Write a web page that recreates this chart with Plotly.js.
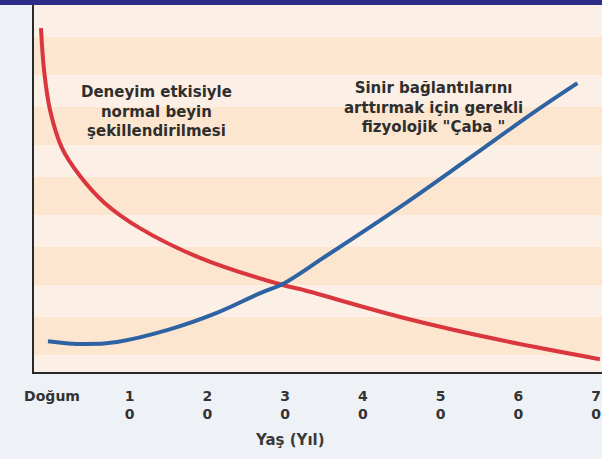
<!DOCTYPE html>
<html>
<head>
<meta charset="utf-8">
<script src="https://cdn.plot.ly/plotly-3.0.1.min.js"></script>
<style>html,body{margin:0;padding:0;background:#eef1f5;}#chart{width:602px;height:459px;}</style>
</head>
<body>
<div id="chart"></div>
<script>
// Data (age in years, relative level)
const redAge   = [-1.42, -1.03, -0.26, 1.29, 3.6, 6.8, 11.3, 19.04, 29.7, 31.9, 44.8, 57.7, 70.5];
const redLevel = [93.7, 82.3, 71.4, 61.0, 53.4, 46.0, 39.2, 31.1, 23.7, 22.6, 15.0, 8.7, 3.5];
const blueAge   = [-0.52, 3.99, 8.36, 14.8, 21.2, 26.8, 29.7, 34.9, 44.8, 53.4, 61.9, 67.6];
const blueLevel = [8.4, 7.6, 8.2, 11.4, 16.1, 21.5, 24.0, 31.1, 45.0, 57.8, 70.6, 78.7];
const tickVals = [0, 10, 20, 30, 40, 50, 60, 70];
const tickText = ["Doğum", "1<br>0", "2<br>0", "3<br>0", "4<br>0", "5<br>0", "6<br>0", "7<br>0"];
const leftLabel = "Deneyim etkisiyle<br>normal beyin<br>şekillendirilmesi";
const rightLabel = "Sinir bağlantılarını<br>arttırmak için gerekli<br>fizyolojik \"Çaba \"";
const axisTitle = "Yaş (Yıl)";

const traces = [
  {x: redAge, y: redLevel, mode: 'lines', line: {color: '#d9363e', width: 4, shape: 'spline', smoothing: 1}, hoverinfo: 'skip'},
  {x: blueAge, y: blueLevel, mode: 'lines', line: {color: '#2d62a3', width: 4, shape: 'spline', smoothing: 1}, hoverinfo: 'skip'}
];

// background stripes
const shapes = [];
const H = 367;
for (let py = 5; py < 372; py += 70) {
  const a = (372 - py) / H, b = (372 - Math.min(py + 32, 372)) / H;
  shapes.push({type: 'rect', xref: 'paper', yref: 'paper', x0: 0, x1: 1, y0: b, y1: a, fillcolor: '#fcefe6', line: {width: 0}, layer: 'below'});
}
// top dark band
shapes.push({type: 'rect', xref: 'paper', yref: 'paper', x0: -0.1, x1: 1.1, y0: 1, y1: 1.02, fillcolor: '#2b2d86', line: {width: 0}});

const layout = {
  width: 602, height: 459,
  margin: {l: 34, r: 0, t: 5, b: 87},
  paper_bgcolor: '#eef1f5',
  plot_bgcolor: '#fde6cf',
  showlegend: false,
  xaxis: {
    range: [-2.32, 70.77], showgrid: false, zeroline: false,
    showline: true, linecolor: '#2a2a2a', linewidth: 2,
    tickvals: tickVals, ticktext: tickText, ticks: '', ticklabelstandoff: 10,
    tickfont: {family: 'DejaVu Sans', size: 14, color: '#333', weight: 'bold'}
  },
  yaxis: {
    range: [0, 100], showgrid: false, zeroline: false,
    showline: true, linecolor: '#2a2a2a', linewidth: 2,
    showticklabels: false, ticks: ''
  },
  shapes: shapes,
  annotations: [
    {text: leftLabel, xref: 'paper', yref: 'paper', x: 0.216, y: 0.71, xanchor: 'center', yanchor: 'middle', showarrow: false,
     font: {family: 'DejaVu Sans', size: 15, color: '#2e2e2e', weight: 'bold'}, align: 'center'},
    {text: rightLabel, xref: 'paper', yref: 'paper', x: 0.703, y: 0.72, xanchor: 'center', yanchor: 'middle', showarrow: false,
     font: {family: 'DejaVu Sans', size: 15, color: '#2e2e2e', weight: 'bold'}, align: 'center'},
    {text: axisTitle, xref: 'paper', yref: 'paper', x: 0.45, y: -0.185, xanchor: 'center', yanchor: 'middle', showarrow: false,
     font: {family: 'DejaVu Sans', size: 15, color: '#3a3a3a', weight: 'bold'}}
  ]
};

Plotly.newPlot('chart', traces, layout, {staticPlot: true, displayModeBar: false});
</script>
</body>
</html>
